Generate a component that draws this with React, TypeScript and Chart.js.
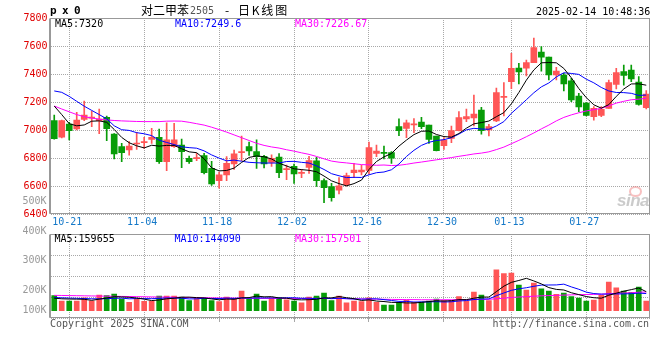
import React, { useEffect, useRef } from 'react';
import { Chart, registerables } from 'chart.js';

Chart.register(...registerables);

// ---------- data ----------
const DATES = [
  '10-17','10-18','10-21','10-22','10-23','10-24','10-25','10-28','10-29','10-30','10-31',
  '11-01','11-04','11-05','11-06','11-07','11-08','11-11','11-12','11-13','11-14','11-15',
  '11-18','11-19','11-20','11-21','11-22','11-25','11-26','11-27','11-28','11-29',
  '12-02','12-03','12-04','12-05','12-06','12-09','12-10','12-11','12-12','12-13',
  '12-16','12-17','12-18','12-19','12-20','12-23','12-24','12-25','12-26','12-27','12-30','12-31',
  '01-02','01-03','01-06','01-07','01-08','01-09','01-10','01-13','01-14','01-15','01-16','01-17',
  '01-20','01-21','01-22','01-23','01-24','01-27',
  '02-05','02-06','02-07','02-10','02-11','02-12','02-13','02-14'
];
const AXIS_DATES = ['10-21','11-04','11-18','12-02','12-16','12-30','01-13','01-27'];

const OPEN = [7067,6948,7043,7007,7076,7085,7066,7090,6971,6881,6857,6900,6910,6933,6948,6774,6881,6893,6798,6795,
  6817,6726,6638,6679,6757,6838,6881,6845,6812,6769,6806,6717,6740,6690,6732,6780,6638,6595,6571,6610,
  6695,6700,6712,6833,6837,6838,7024,7012,7037,7057,7036,6957,6888,6940,6995,7079,7086,7143,7000,7064,
  7233,7345,7443,7441,7481,7557,7521,7393,7393,7352,7243,7193,7095,7105,7155,7326,7417,7428,7343,7160];
const HIGH = [7107,7070,7055,7126,7207,7136,7150,7100,6975,6905,6917,6983,6948,7012,7007,7052,7048,6936,6814,6833,
  6833,6776,6700,6810,6857,6957,6914,6929,6819,6822,6831,6750,6756,6719,6812,6804,6652,6619,6660,6692,
  6762,6750,6914,6892,6886,6845,7079,7071,7081,7090,7036,6957,6945,7028,7131,7150,7250,7162,7040,7300,
  7338,7548,7476,7500,7657,7595,7521,7448,7405,7369,7262,7195,7167,7167,7357,7440,7464,7464,7381,7281];
const LOW = [6935,6943,6929,7000,7067,7024,6974,6924,6793,6774,6821,6862,6869,6905,6762,6710,6876,6731,6762,6781,
  6686,6605,6585,6638,6719,6781,6819,6726,6730,6740,6660,6645,6619,6660,6690,6597,6481,6491,6544,6600,
  6660,6680,6688,6810,6793,6762,6960,6945,6981,7010,6905,6850,6862,6910,6993,7060,7029,6971,6957,7060,
  7100,7295,7329,7386,7481,7421,7357,7357,7279,7202,7131,7100,7071,7095,7155,7293,7321,7345,7178,7150];
const CLOSE = [6938,7067,6995,7071,7107,7090,7078,7009,6829,6838,6886,6905,6914,6948,6774,6929,6929,6845,6774,6798,
  6695,6614,6679,6762,6829,6845,6850,6810,6757,6798,6695,6724,6686,6698,6781,6638,6588,6517,6602,6674,
  6714,6714,6874,6850,6833,6798,6995,7052,7043,7024,6933,6852,6928,6995,7088,7095,7114,6995,7024,7267,
  7240,7440,7414,7481,7588,7521,7393,7421,7329,7214,7164,7105,7155,7148,7338,7410,7390,7364,7183,7257];

const MA5 = [7171,7110,7045,7030,7036,7063,7065,7055,7004,6947,6909,6887,6872,6891,6885,6890,6890,6866,6844,6838,
  6794,6730,6708,6711,6728,6768,6804,6815,6809,6793,6763,6743,6723,6717,6712,6702,6671,6637,6617,6601,
  6617,6642,6718,6775,6808,6832,6885,6928,6967,6991,6993,6968,6953,6949,6975,7013,7044,7053,7064,7095,
  7124,7187,7268,7356,7429,7480,7482,7480,7440,7373,7296,7231,7180,7156,7181,7240,7293,7329,7330,7320];
const MA10 = [7279,7269,7240,7205,7170,7140,7110,7080,7030,7002,6997,6981,6973,6960,6927,6911,6896,6880,6874,6870,
  6851,6822,6799,6780,6785,6777,6769,6766,6764,6764,6764,6775,6776,6769,6764,6744,6718,6688,6673,6660,
  6662,6661,6680,6695,6700,6716,6757,6811,6855,6890,6912,6925,6931,6945,6971,7001,7012,7007,7005,7029,
  7060,7119,7167,7216,7266,7308,7336,7379,7409,7404,7397,7363,7337,7304,7279,7268,7267,7262,7247,7249.6];
const MA30 = [7171,7150,7130,7110,7095,7085,7078,7072,7068,7065,7063,7061,7060,7060,7060,7063,7064,7063,7055,7045,
  7035,7020,7003,6985,6965,6945,6925,6905,6890,6879,6871,6859,6849,6837,6826,6811,6794,6778,6770,6765,
  6759,6753,6751,6748,6750,6746,6748,6755,6764,6771,6779,6787,6795,6803,6812,6820,6829,6835,6844,6860,
  6878,6902,6926,6952,6979,7008,7035,7065,7090,7108,7123,7136,7145,7155,7172,7192,7205,7216,7220,7226.67];

const VOLUME = [126000,81500,81500,81500,109000,81500,132000,126000,140000,98000,
  70600,98000,79000,79000,123000,123000,123000,115000,84000,107000,
  107000,84000,75600,115000,98000,165000,98000,140000,81500,107000,
  107000,92000,81500,67000,115000,123000,149000,84000,123000,67000,
  81500,75600,109000,70600,48000,48000,70600,90000,70600,73000,
  81500,98000,84000,84000,118000,81500,157000,132000,84000,344000,
  311000,317000,216000,174000,233000,183000,165000,138000,149000,118000,
  107000,81500,90000,129000,241000,193000,165000,155000,199000,81500];
const VOL_MA5 = [105000,100000,98000,97000,95900,87000,97000,106000,118000,115500,
  113000,106500,97000,85000,90000,100000,105000,113000,114000,110000,
  107000,99000,91500,97700,96000,107500,110000,123000,116500,118000,
  107000,105500,94000,91000,92500,96000,107000,107600,119000,109000,
  101000,86000,91000,81000,77000,70000,69000,65000,65000,70000,
  77000,83000,81000,84000,93000,93000,105000,114500,114500,160000,
  206000,238000,254000,272000,250000,225000,194000,179000,174000,151000,
  135000,119000,109000,105000,130000,147000,164000,177000,191000,159655];
const VOL_MA10 = [110000,108000,106000,104000,102000,100000,100000,101000,104000,105700,
  100000,102000,101600,101000,103000,107000,106000,105000,99000,100000,
  104000,102000,102000,106000,103000,107000,105000,107000,107000,107000,
  107000,108000,108500,104000,105000,101000,106000,101000,105000,101000,
  98000,97000,99000,100000,93000,86000,78000,78000,73000,74000,
  74000,76000,73000,75000,82000,85000,94000,98000,99000,126000,
  149000,171000,184000,193000,205000,215000,216000,216500,223000,200000,
  180000,156000,144000,139000,140000,141000,141000,143000,148000,144090];
const VOL_MA30 = [129000,128000,127000,126000,125000,124000,123000,122000,121000,120000,
  119000,118000,117000,116000,115000,114000,113000,112000,111000,110000,
  109000,108000,107000,106000,106000,105000,105000,104000,104000,104000,
  104000,104000,103000,103000,103000,103000,103000,102000,102000,101000,
  100000,99000,98000,97000,96000,95000,94000,93000,93000,92000,
  92000,92000,92000,92000,93000,93000,94000,95000,96000,100000,
  105000,111000,115000,118000,122000,125000,127000,129000,131000,133000,
  135000,136000,137000,139000,143000,146000,149000,151000,155000,157501];

const PRICE_MIN = 6400;
const PRICE_MAX = 7800;
const PRICE_STEP = 200;
const VOL_LABELS = ['500K', '400K', '300K', '200K', '100K'];
const VOL_LABEL_VALUES = [500000, 400000, 300000, 200000, 100000];

// ---------- styles ----------
const MONO = '"DejaVu Sans Mono", monospace';
const CJK = '"Noto Sans CJK SC", sans-serif';
const RED = '#ff5656';
const GREEN = '#089c08';
const GRID = '#a8a8a8';
const BORDER = '#999999';

const AXIS_IDX = AXIS_DATES.map((d) => DATES.indexOf(d));
const CANDLE_COLORS = CLOSE.map((c, i) => (c >= OPEN[i] ? RED : GREEN));

const boxPlugin = {
  id: 'boxBorder',
  afterDatasetsDraw(chart: any) {
    const { ctx, chartArea: a } = chart;
    ctx.save();
    ctx.strokeStyle = BORDER;
    ctx.lineWidth = 1;
    const l = Math.round(a.left) - 0.5;
    const t = Math.round(a.top) + 0.5;
    const r = Math.round(a.right) - 0.5;
    const b = Math.round(a.bottom) - 0.5;
    ctx.strokeRect(l, t, r - l, b - t);
    ctx.beginPath();
    ctx.moveTo(l - 1, t);
    ctx.lineTo(l - 1, b);
    ctx.lineTo(r, b);
    ctx.stroke();
    ctx.restore();
  },
};

const volLabelPlugin = {
  id: 'volLabels',
  afterDraw(chart: any) {
    const s = chart.scales.yLab;
    const a = chart.chartArea;
    const ctx = chart.ctx;
    ctx.save();
    ctx.font = `10px ${MONO}`;
    ctx.fillStyle = '#999';
    ctx.textAlign = 'right';
    ctx.textBaseline = 'middle';
    VOL_LABEL_VALUES.forEach((v, i) => {
      const y = Math.min(s.getPixelForValue(v), a.bottom - 8);
      ctx.fillText(VOL_LABELS[i], a.left - 4, y);
    });
    ctx.restore();
  },
};

const lineDs = (label: string, data: number[], color: string) => ({
  type: 'line' as const,
  label,
  data,
  borderColor: color,
  borderWidth: 1,
  pointRadius: 0,
  tension: 0,
  fill: false,
  order: 0,
});

const xGridColor = (ctx: any) => (AXIS_IDX.includes(ctx.index) ? GRID : 'rgba(0,0,0,0)');

const txt = (extra: React.CSSProperties): React.CSSProperties => ({
  position: 'absolute',
  fontFamily: MONO,
  fontSize: 10,
  lineHeight: '10px',
  whiteSpace: 'pre',
  ...extra,
});

const cjk = (extra: React.CSSProperties): React.CSSProperties => ({
  position: 'absolute',
  fontFamily: CJK,
  fontSize: 12,
  lineHeight: '12px',
  whiteSpace: 'pre',
  color: '#000',
  top: 4,
  ...extra,
});

export default function App() {
  const priceRef = useRef<HTMLCanvasElement>(null);
  const volRef = useRef<HTMLCanvasElement>(null);

  useEffect(() => {
    const price = new Chart(priceRef.current as HTMLCanvasElement, {
      type: 'bar',
      data: {
        labels: DATES,
        datasets: [
          lineDs('MA5', MA5, '#000000'),
          lineDs('MA10', MA10, '#0000ff'),
          lineDs('MA30', MA30, '#ff00ff'),
          {
            type: 'bar',
            label: 'body',
            data: OPEN.map((o, i) => [o, CLOSE[i]]),
            backgroundColor: CANDLE_COLORS,
            barThickness: 6,
            minBarLength: 1,
            grouped: false,
            order: 1,
          } as any,
          {
            type: 'bar',
            label: 'wick',
            data: LOW.map((l, i) => [l, HIGH[i]]),
            backgroundColor: CANDLE_COLORS,
            barThickness: 1,
            grouped: false,
            order: 2,
          } as any,
        ],
      },
      options: {
        responsive: false,
        animation: false,
        events: [],
        layout: { padding: { left: 0, right: 10, top: 18, bottom: 0 } },
        plugins: { legend: { display: false }, tooltip: { enabled: false } },
        scales: {
          x: {
            type: 'category',
            offset: true,
            grid: { offset: false, drawTicks: false, color: xGridColor, lineWidth: 1 },
            border: { display: false, dash: [1, 1] },
            ticks: {
              autoSkip: false,
              maxRotation: 0,
              minRotation: 0,
              padding: 2,
              labelOffset: -2,
              color: '#1478c8',
              font: { family: MONO, size: 10 },
              callback: (_v: any, i: number) => (AXIS_IDX.includes(i) ? DATES[i] : ''),
            },
            afterFit: (s: any) => {
              s.height = 18;
            },
          },
          y: {
            type: 'linear',
            min: PRICE_MIN,
            max: PRICE_MAX,
            ticks: {
              stepSize: PRICE_STEP,
              color: '#e00000',
              padding: 3,
              font: { family: MONO, size: 10 },
              callback: (v: any) => String(v),
            },
            grid: { drawTicks: false, color: GRID, lineWidth: 1 },
            border: { display: false, dash: [1, 1] },
            afterFit: (s: any) => {
              s.width = 50.5;
            },
          },
        },
      } as any,
      plugins: [boxPlugin],
    });

    const vol = new Chart(volRef.current as HTMLCanvasElement, {
      type: 'bar',
      data: {
        labels: DATES,
        datasets: [
          lineDs('VMA5', VOL_MA5, '#000000'),
          lineDs('VMA10', VOL_MA10, '#0000ff'),
          lineDs('VMA30', VOL_MA30, '#ff00ff'),
          {
            type: 'bar',
            label: 'volume',
            data: VOLUME,
            backgroundColor: CANDLE_COLORS,
            barThickness: 5,
            grouped: false,
            order: 1,
          } as any,
        ],
      },
      options: {
        responsive: false,
        animation: false,
        events: [],
        layout: { padding: { left: 0, right: 10, top: 234, bottom: 38 } },
        plugins: { legend: { display: false }, tooltip: { enabled: false } },
        scales: {
          x: {
            type: 'category',
            offset: true,
            grid: { offset: false, drawTicks: true, tickLength: 4, color: xGridColor, lineWidth: 1 },
            border: { display: false, dash: [1, 1] },
            ticks: { display: false, autoSkip: false },
            afterFit: (s: any) => {
              s.height = 4;
            },
          },
          y: {
            type: 'linear',
            min: -61300,
            max: 644300,
            ticks: { display: false },
            grid: { drawTicks: false, color: GRID, lineWidth: 1 },
            border: { display: false, dash: [1, 1] },
            afterBuildTicks: (s: any) => {
              s.ticks = [0, 1, 2, 3, 4].map((k) => ({ value: s.min + (k * (s.max - s.min)) / 4 }));
            },
            afterFit: (s: any) => {
              s.width = 50.5;
            },
          },
          yLab: {
            type: 'linear',
            display: false,
            min: 107100,
            max: 389900,
          },
        },
      } as any,
      plugins: [boxPlugin, volLabelPlugin],
    });

    return () => {
      price.destroy();
      vol.destroy();
    };
  }, []);

  return (
    <div
      style={{
        position: 'fixed',
        left: 0,
        top: 0,
        width: 660,
        height: 360,
        background: '#fff',
        overflow: 'hidden',
      }}
    >
      <canvas ref={priceRef} width={660} height={232} style={{ position: 'absolute', left: 0, top: 0, width: 660, height: 232 }} />
      <canvas ref={volRef} width={660} height={360} style={{ position: 'absolute', left: 0, top: 0, width: 660, height: 360 }} />

      <div style={txt({ left: 50, top: 5, fontSize: 11, lineHeight: '11px', fontWeight: 'bold', letterSpacing: -0.6, color: '#000' })}>p x 0</div>

      <div style={cjk({ left: 141, letterSpacing: 0 })}>对二甲苯</div>
      <div style={txt({ left: 190, top: 6, fontSize: 10, color: '#555' })}>2505</div>
      <div style={cjk({ left: 225 })}>-</div>
      <div style={cjk({ left: 238, letterSpacing: 1.8 })}>日K线图</div>

      <div style={txt({ left: 536, top: 6.5, color: '#000' })}>2025-02-14 10:48:36</div>

      <div style={txt({ left: 55, top: 19, color: '#000' })}>MA5:7320</div>
      <div style={txt({ left: 175, top: 19, color: '#0000ff' })}>MA10:7249.6</div>
      <div style={txt({ left: 295, top: 19, color: '#ff00ff' })}>MA30:7226.67</div>

      <div style={txt({ left: 54.5, top: 234, color: '#000' })}>MA5:159655</div>
      <div style={txt({ left: 174.5, top: 234, color: '#0000ff' })}>MA10:144090</div>
      <div style={txt({ left: 295, top: 234, color: '#ff00ff' })}>MA30:157501</div>

      <div style={txt({ left: 50, top: 318.5, color: '#555' })}>Copyright 2025 SINA.COM</div>
      <div style={txt({ left: 492.5, top: 318.5, color: '#555' })}>http://finance.sina.com.cn</div>

      <div
        style={{
          position: 'absolute',
          left: 629,
          top: 186,
          width: 9,
          height: 7,
          borderRadius: '50%',
          border: '2px solid rgba(240,140,140,0.55)',
        }}
      />
      <div
        style={{
          position: 'absolute',
          left: 617,
          top: 192,
          fontFamily: '"Liberation Sans", sans-serif',
          fontStyle: 'italic',
          fontWeight: 'bold',
          fontSize: 17,
          lineHeight: '17px',
          color: 'rgba(190,190,190,0.8)',
          letterSpacing: -0.5,
        }}
      >
        sina
      </div>
    </div>
  );
}
